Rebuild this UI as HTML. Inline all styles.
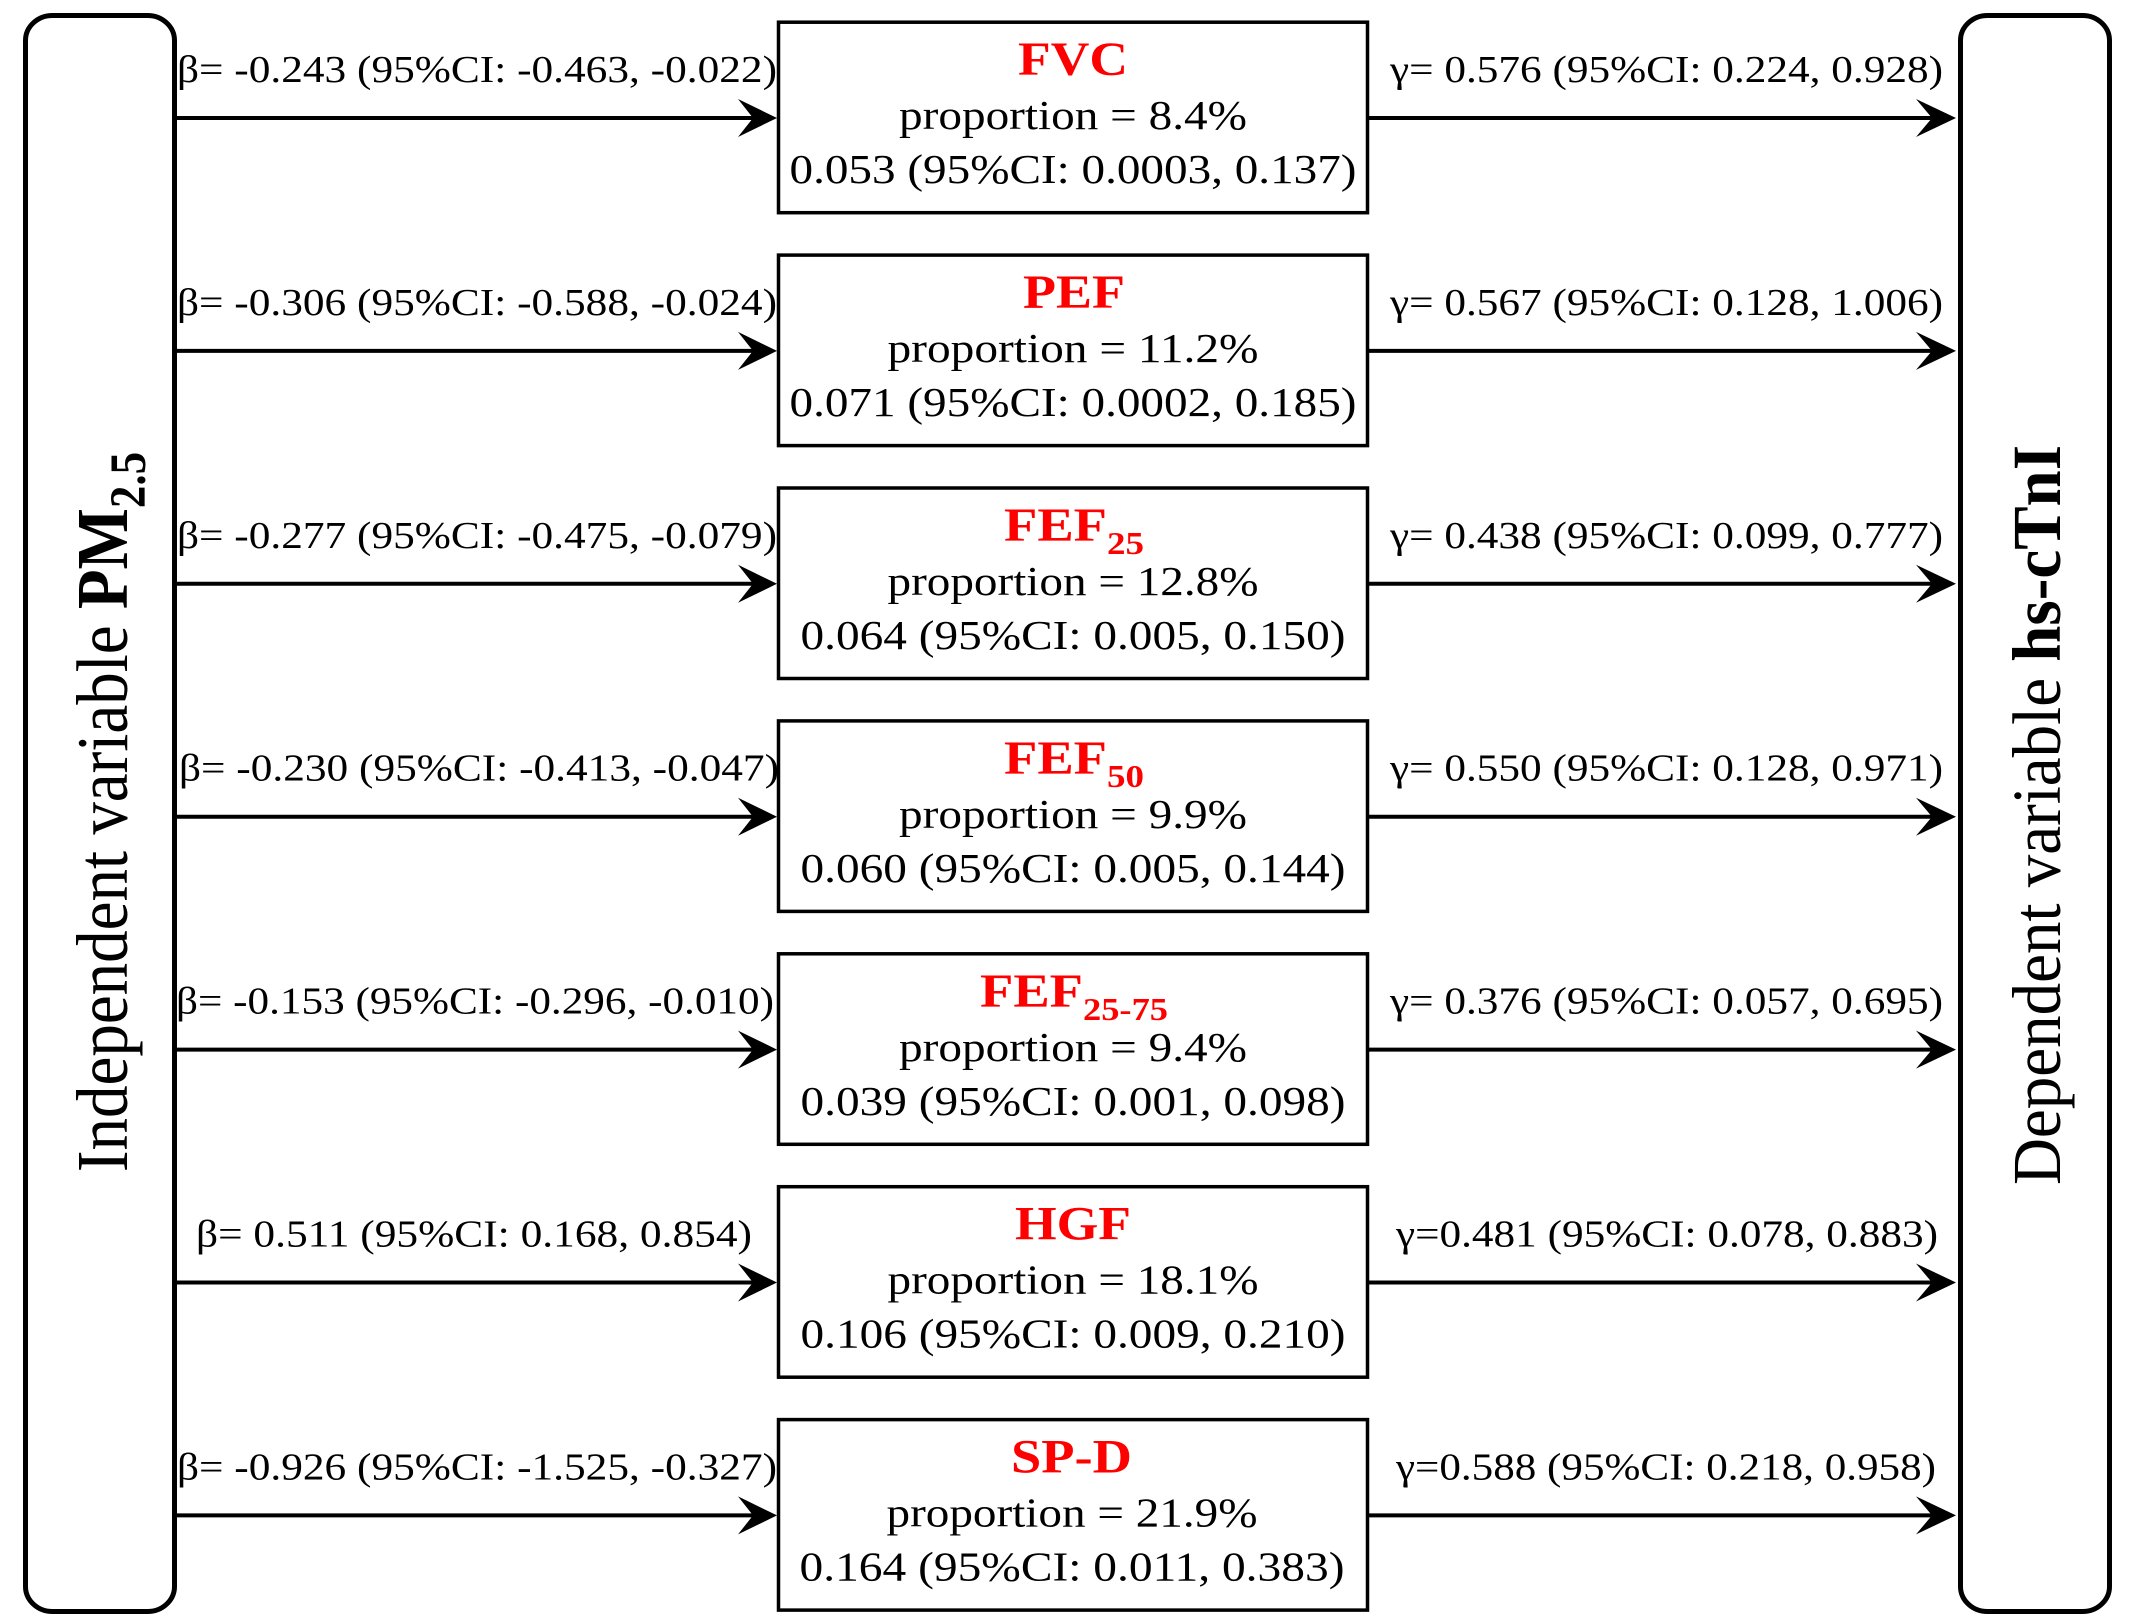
<!DOCTYPE html>
<html>
<head>
<meta charset="utf-8">
<style>
  html, body { margin: 0; padding: 0; background: #ffffff; }
  svg { display: block; }
  text { font-family: "Liberation Serif", "Times New Roman", serif; fill: #000; }
  .t { fill: #ff0000; font-weight: bold; font-size: 48px; }
  .ts { fill: #ff0000; font-weight: bold; font-size: 32px; }
  .c { font-size: 41px; }
  .s { font-size: 38px; }
</style>
</head>
<body>
<svg xmlns="http://www.w3.org/2000/svg" width="2131" height="1624" viewBox="0 0 2131 1624">
  <rect x="0" y="0" width="2131" height="1624" fill="#fff"/>

  <!-- Left / right rounded boxes -->
  <rect x="25.5" y="15.5" width="149" height="1596" rx="27" ry="25" fill="none" stroke="#000" stroke-width="5"/>
  <rect x="1960.5" y="15.5" width="149" height="1596" rx="27" ry="25" fill="none" stroke="#000" stroke-width="5"/>

  <!-- Rotated labels -->
  <text transform="translate(127,812) scale(1.12,1) rotate(-90)" text-anchor="middle" font-size="65">Independent variable <tspan font-weight="bold">PM</tspan><tspan font-weight="bold" font-size="45" dy="16">2.5</tspan></text>
  <text transform="translate(2060,815) scale(1.06,1) rotate(-90)" text-anchor="middle" font-size="65">Dependent variable <tspan font-weight="bold">hs-cTnI</tspan></text>

  <!-- Center boxes -->
  <g fill="none" stroke="#000" stroke-width="3.5">
    <rect x="778.5" y="22.2" width="589" height="190.5"/>
    <rect x="778.5" y="255.1" width="589" height="190.5"/>
    <rect x="778.5" y="488" width="589" height="190.5"/>
    <rect x="778.5" y="720.9" width="589" height="190.5"/>
    <rect x="778.5" y="953.8" width="589" height="190.5"/>
    <rect x="778.5" y="1186.7" width="589" height="190.5"/>
    <rect x="778.5" y="1419.6" width="589" height="190.5"/>
  </g>

  <!-- Arrows -->
  <g stroke="#000" stroke-width="4">
    <line x1="177" y1="118" x2="758" y2="118"/>
    <line x1="177" y1="350.9" x2="758" y2="350.9"/>
    <line x1="177" y1="583.8" x2="758" y2="583.8"/>
    <line x1="177" y1="816.7" x2="758" y2="816.7"/>
    <line x1="177" y1="1049.6" x2="758" y2="1049.6"/>
    <line x1="177" y1="1282.5" x2="758" y2="1282.5"/>
    <line x1="177" y1="1515.4" x2="758" y2="1515.4"/>
    <line x1="1369" y1="118" x2="1937" y2="118"/>
    <line x1="1369" y1="350.9" x2="1937" y2="350.9"/>
    <line x1="1369" y1="583.8" x2="1937" y2="583.8"/>
    <line x1="1369" y1="816.7" x2="1937" y2="816.7"/>
    <line x1="1369" y1="1049.6" x2="1937" y2="1049.6"/>
    <line x1="1369" y1="1282.5" x2="1937" y2="1282.5"/>
    <line x1="1369" y1="1515.4" x2="1937" y2="1515.4"/>
  </g>
  <g fill="#000">
    <polygon points="777,118 738,99 753,118 738,137"/>
    <polygon points="777,350.9 738,331.9 753,350.9 738,369.9"/>
    <polygon points="777,583.8 738,564.8 753,583.8 738,602.8"/>
    <polygon points="777,816.7 738,797.7 753,816.7 738,835.7"/>
    <polygon points="777,1049.6 738,1030.6 753,1049.6 738,1068.6"/>
    <polygon points="777,1282.5 738,1263.5 753,1282.5 738,1301.5"/>
    <polygon points="777,1515.4 738,1496.4 753,1515.4 738,1534.4"/>
    <polygon points="1956,118 1916,99 1932,118 1916,137"/>
    <polygon points="1956,350.9 1916,331.9 1932,350.9 1916,369.9"/>
    <polygon points="1956,583.8 1916,564.8 1932,583.8 1916,602.8"/>
    <polygon points="1956,816.7 1916,797.7 1932,816.7 1916,835.7"/>
    <polygon points="1956,1049.6 1916,1030.6 1932,1049.6 1916,1068.6"/>
    <polygon points="1956,1282.5 1916,1263.5 1932,1282.5 1916,1301.5"/>
    <polygon points="1956,1515.4 1916,1496.4 1932,1515.4 1916,1534.4"/>
  </g>

  <!-- Left side labels (beta) -->
  <g>
    <text class="s" x="177" y="82" textLength="600" lengthAdjust="spacingAndGlyphs">β= -0.243 (95%CI: -0.463, -0.022)</text>
    <text class="s" x="177" y="314.9" textLength="600" lengthAdjust="spacingAndGlyphs">β= -0.306 (95%CI: -0.588, -0.024)</text>
    <text class="s" x="177" y="547.8" textLength="600" lengthAdjust="spacingAndGlyphs">β= -0.277 (95%CI: -0.475, -0.079)</text>
    <text class="s" x="179" y="780.7" textLength="600" lengthAdjust="spacingAndGlyphs">β= -0.230 (95%CI: -0.413, -0.047)</text>
    <text class="s" x="176" y="1013.6" textLength="598" lengthAdjust="spacingAndGlyphs">β= -0.153 (95%CI: -0.296, -0.010)</text>
    <text class="s" x="196" y="1246.5" textLength="556" lengthAdjust="spacingAndGlyphs">β= 0.511 (95%CI: 0.168, 0.854)</text>
    <text class="s" x="177" y="1479.4" textLength="600" lengthAdjust="spacingAndGlyphs">β= -0.926 (95%CI: -1.525, -0.327)</text>
  </g>

  <!-- Right side labels (gamma) -->
  <g>
    <text class="s" x="1390" y="82" textLength="553" lengthAdjust="spacingAndGlyphs">γ= 0.576 (95%CI: 0.224, 0.928)</text>
    <text class="s" x="1390" y="314.9" textLength="553" lengthAdjust="spacingAndGlyphs">γ= 0.567 (95%CI: 0.128, 1.006)</text>
    <text class="s" x="1390" y="547.8" textLength="553" lengthAdjust="spacingAndGlyphs">γ= 0.438 (95%CI: 0.099, 0.777)</text>
    <text class="s" x="1390" y="780.7" textLength="553" lengthAdjust="spacingAndGlyphs">γ= 0.550 (95%CI: 0.128, 0.971)</text>
    <text class="s" x="1390" y="1013.6" textLength="553" lengthAdjust="spacingAndGlyphs">γ= 0.376 (95%CI: 0.057, 0.695)</text>
    <text class="s" x="1396" y="1246.5" textLength="542" lengthAdjust="spacingAndGlyphs">γ=0.481 (95%CI: 0.078, 0.883)</text>
    <text class="s" x="1396" y="1479.4" textLength="540" lengthAdjust="spacingAndGlyphs">γ=0.588 (95%CI: 0.218, 0.958)</text>
  </g>

  <!-- Titles -->
  <text class="t" x="1018" y="75.2" textLength="110" lengthAdjust="spacingAndGlyphs">FVC</text>
  <text class="t" x="1023" y="308.1" textLength="102" lengthAdjust="spacingAndGlyphs">PEF</text>
  <text class="t" x="1004" y="541" textLength="103" lengthAdjust="spacingAndGlyphs">FEF</text>
  <text class="ts" x="1107" y="554" textLength="37" lengthAdjust="spacingAndGlyphs">25</text>
  <text class="t" x="1004" y="773.9" textLength="103" lengthAdjust="spacingAndGlyphs">FEF</text>
  <text class="ts" x="1107" y="786.9" textLength="37" lengthAdjust="spacingAndGlyphs">50</text>
  <text class="t" x="980" y="1006.8" textLength="103" lengthAdjust="spacingAndGlyphs">FEF</text>
  <text class="ts" x="1083" y="1019.8" textLength="85" lengthAdjust="spacingAndGlyphs">25-75</text>
  <text class="t" x="1015" y="1239.7" textLength="116" lengthAdjust="spacingAndGlyphs">HGF</text>
  <text class="t" x="1011" y="1472.6" textLength="121" lengthAdjust="spacingAndGlyphs">SP-D</text>

  <!-- Proportion lines -->
  <g text-anchor="middle">
    <text class="c" x="1073" y="129.2" textLength="348" lengthAdjust="spacingAndGlyphs">proportion = 8.4%</text>
    <text class="c" x="1073" y="362.1" textLength="371" lengthAdjust="spacingAndGlyphs">proportion = 11.2%</text>
    <text class="c" x="1073" y="595" textLength="371" lengthAdjust="spacingAndGlyphs">proportion = 12.8%</text>
    <text class="c" x="1073" y="827.9" textLength="348" lengthAdjust="spacingAndGlyphs">proportion = 9.9%</text>
    <text class="c" x="1073" y="1060.8" textLength="348" lengthAdjust="spacingAndGlyphs">proportion = 9.4%</text>
    <text class="c" x="1073" y="1293.7" textLength="371" lengthAdjust="spacingAndGlyphs">proportion = 18.1%</text>
    <text class="c" x="1072" y="1526.6" textLength="371" lengthAdjust="spacingAndGlyphs">proportion = 21.9%</text>

    <text class="c" x="1073" y="183.2" textLength="567" lengthAdjust="spacingAndGlyphs">0.053 (95%CI: 0.0003, 0.137)</text>
    <text class="c" x="1073" y="416.1" textLength="567" lengthAdjust="spacingAndGlyphs">0.071 (95%CI: 0.0002, 0.185)</text>
    <text class="c" x="1073" y="649" textLength="545" lengthAdjust="spacingAndGlyphs">0.064 (95%CI: 0.005, 0.150)</text>
    <text class="c" x="1073" y="881.9" textLength="545" lengthAdjust="spacingAndGlyphs">0.060 (95%CI: 0.005, 0.144)</text>
    <text class="c" x="1073" y="1114.8" textLength="545" lengthAdjust="spacingAndGlyphs">0.039 (95%CI: 0.001, 0.098)</text>
    <text class="c" x="1073" y="1347.7" textLength="545" lengthAdjust="spacingAndGlyphs">0.106 (95%CI: 0.009, 0.210)</text>
    <text class="c" x="1072" y="1580.6" textLength="545" lengthAdjust="spacingAndGlyphs">0.164 (95%CI: 0.011, 0.383)</text>
  </g>
</svg>
</body>
</html>
